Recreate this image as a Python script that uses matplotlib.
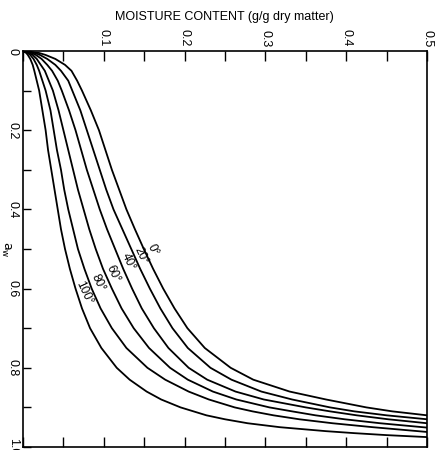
import matplotlib
matplotlib.use('Agg')
import matplotlib.pyplot as plt

plt.rcParams['font.family'] = ['Liberation Sans', 'DejaVu Sans']

# Isotherm labels (temperature, deg C)
labels = ['0°', '20°', '40°', '60°', '80°', '100°']

# water activity (a_w) and moisture content (g/g dry matter)
aw_0 = [0, 0.005, 0.01, 0.02, 0.035, 0.05, 0.075, 0.10, 0.15, 0.20, 0.25, 0.30, 0.35, 0.40, 0.45, 0.50,
        0.55, 0.60, 0.65, 0.70, 0.75, 0.80, 0.83, 0.86, 0.88, 0.90, 0.91, 0.92]
mc_0 = [0, 0.020, 0.028, 0.040, 0.052, 0.060, 0.067, 0.073, 0.084, 0.094, 0.102, 0.110, 0.119, 0.128, 0.1385, 0.1495,
        0.161, 0.1735, 0.1875, 0.2035, 0.225, 0.257, 0.285, 0.330, 0.375, 0.425, 0.457, 0.500]

aw_20 = [0, 0.005, 0.01, 0.02, 0.035, 0.05, 0.075, 0.10, 0.15, 0.20, 0.25, 0.30, 0.35, 0.40, 0.45, 0.50,
         0.55, 0.60, 0.65, 0.70, 0.75, 0.80, 0.83, 0.86, 0.88, 0.90, 0.91, 0.92, 0.93]
mc_20 = [0, 0.015, 0.021, 0.030, 0.040, 0.047, 0.056, 0.061, 0.071, 0.079, 0.087, 0.095, 0.103, 0.112, 0.123, 0.134,
         0.145, 0.157, 0.170, 0.185, 0.204, 0.232, 0.258, 0.295, 0.333, 0.380, 0.410, 0.450, 0.500]

aw_40 = [0, 0.005, 0.01, 0.02, 0.035, 0.05, 0.075, 0.10, 0.15, 0.20, 0.25, 0.30, 0.35, 0.40, 0.45, 0.50,
         0.55, 0.60, 0.65, 0.70, 0.75, 0.80, 0.83, 0.86, 0.88, 0.90, 0.91, 0.92, 0.93, 0.94]
mc_40 = [0, 0.011, 0.016, 0.023, 0.030, 0.036, 0.043, 0.048, 0.057, 0.065, 0.072, 0.079, 0.087, 0.095, 0.104, 0.114,
         0.124, 0.135, 0.147, 0.162, 0.180, 0.205, 0.228, 0.263, 0.298, 0.350, 0.380, 0.413, 0.452, 0.500]

aw_60 = [0, 0.005, 0.01, 0.02, 0.035, 0.05, 0.075, 0.10, 0.15, 0.20, 0.25, 0.30, 0.35, 0.40, 0.45, 0.50,
         0.55, 0.60, 0.65, 0.70, 0.75, 0.80, 0.83, 0.86, 0.88, 0.90, 0.91, 0.92, 0.93, 0.94, 0.951]
mc_60 = [0, 0.008, 0.012, 0.017, 0.022, 0.027, 0.032, 0.037, 0.044, 0.050, 0.056, 0.062, 0.068, 0.075, 0.082, 0.090,
         0.099, 0.110, 0.122, 0.137, 0.156, 0.182, 0.204, 0.235, 0.264, 0.305, 0.333, 0.362, 0.398, 0.442, 0.500]

aw_80 = [0, 0.005, 0.01, 0.02, 0.035, 0.05, 0.075, 0.10, 0.15, 0.20, 0.25, 0.30, 0.35, 0.40, 0.45, 0.50,
         0.55, 0.60, 0.65, 0.70, 0.75, 0.80, 0.83, 0.86, 0.88, 0.90, 0.91, 0.92, 0.93, 0.94, 0.95, 0.962]
mc_80 = [0, 0.006, 0.009, 0.013, 0.017, 0.020, 0.024, 0.028, 0.034, 0.038, 0.042, 0.047, 0.051, 0.056, 0.062, 0.068,
         0.076, 0.085, 0.096, 0.110, 0.128, 0.154, 0.176, 0.205, 0.230, 0.262, 0.284, 0.310, 0.342, 0.383, 0.433, 0.500]

aw_100 = [0, 0.005, 0.01, 0.02, 0.035, 0.05, 0.075, 0.10, 0.15, 0.20, 0.25, 0.30, 0.35, 0.40, 0.45, 0.50,
          0.55, 0.60, 0.65, 0.70, 0.75, 0.80, 0.83, 0.86, 0.88, 0.90, 0.92, 0.93, 0.94, 0.95, 0.96, 0.965, 0.97, 0.975]
mc_100 = [0, 0.004, 0.006, 0.009, 0.012, 0.014, 0.017, 0.020, 0.024, 0.028, 0.031, 0.035, 0.039, 0.043, 0.047, 0.052,
          0.058, 0.065, 0.073, 0.083, 0.097, 0.116, 0.132, 0.153, 0.171, 0.195, 0.227, 0.250, 0.278, 0.318, 0.375, 0.410, 0.450, 0.500]

# label anchor positions (moisture content, a_w)
label_mc = [0.160, 0.146, 0.130, 0.111, 0.093, 0.075]
label_aw = [0.503, 0.518, 0.533, 0.563, 0.586, 0.611]

x_ticks = [0, 0.05, 0.1, 0.15, 0.2, 0.25, 0.3, 0.35, 0.4, 0.45, 0.5]
x_ticklabels = ['', '', '0.1', '', '0.2', '', '0.3', '', '0.4', '', '0.5']
y_ticks = [0, 0.1, 0.2, 0.3, 0.4, 0.5, 0.6, 0.7, 0.8, 0.9, 1.0]
y_ticklabels = ['0', '', '0.2', '', '0.4', '', '0.6', '', '0.8', '', '1.0']

fig = plt.figure(figsize=(4.37, 4.5), dpi=100)
ax = fig.add_axes([23 / 437, 3 / 450, 404 / 437, 396 / 450])

series = [(mc_0, aw_0), (mc_20, aw_20), (mc_40, aw_40), (mc_60, aw_60), (mc_80, aw_80), (mc_100, aw_100)]
for mc, aw in series:
    ax.plot(mc, aw, color='black', lw=1.3, solid_capstyle='round', solid_joinstyle='round')

for lab, x, y in zip(labels, label_mc, label_aw):
    ax.text(x, y, lab, rotation=-65, ha='center', va='center', fontsize=8.5, rotation_mode='anchor')

ax.set_xlim(0, 0.5)
ax.set_ylim(1.0, 0)

ax.set_xticks(x_ticks)
ax.set_xticklabels(x_ticklabels)
ax.set_yticks(y_ticks)
ax.set_yticklabels(y_ticklabels)

ax.tick_params(axis='x', which='both', direction='in', top=True, bottom=True,
               labeltop=True, labelbottom=False, length=7, width=1,
               labelrotation=-90, pad=3, labelsize=9)
ax.tick_params(axis='y', which='both', direction='in', left=True, right=False,
               labelleft=True, length=6, width=1, labelrotation=-90, pad=3, labelsize=9)
for lab in ax.get_yticklabels():
    lab.set_va('center')

for s in ax.spines.values():
    s.set_linewidth(1.2)

fig.text(224 / 437, 1 - 17 / 450, 'MOISTURE CONTENT (g/g dry matter)', ha='center', va='center', fontsize=9)
fig.text(6 / 437, 1 - 249 / 450, r'$\mathrm{a_w}$', ha='center', va='center', rotation=-90, fontsize=9)

fig.savefig('out.png', dpi=100)
